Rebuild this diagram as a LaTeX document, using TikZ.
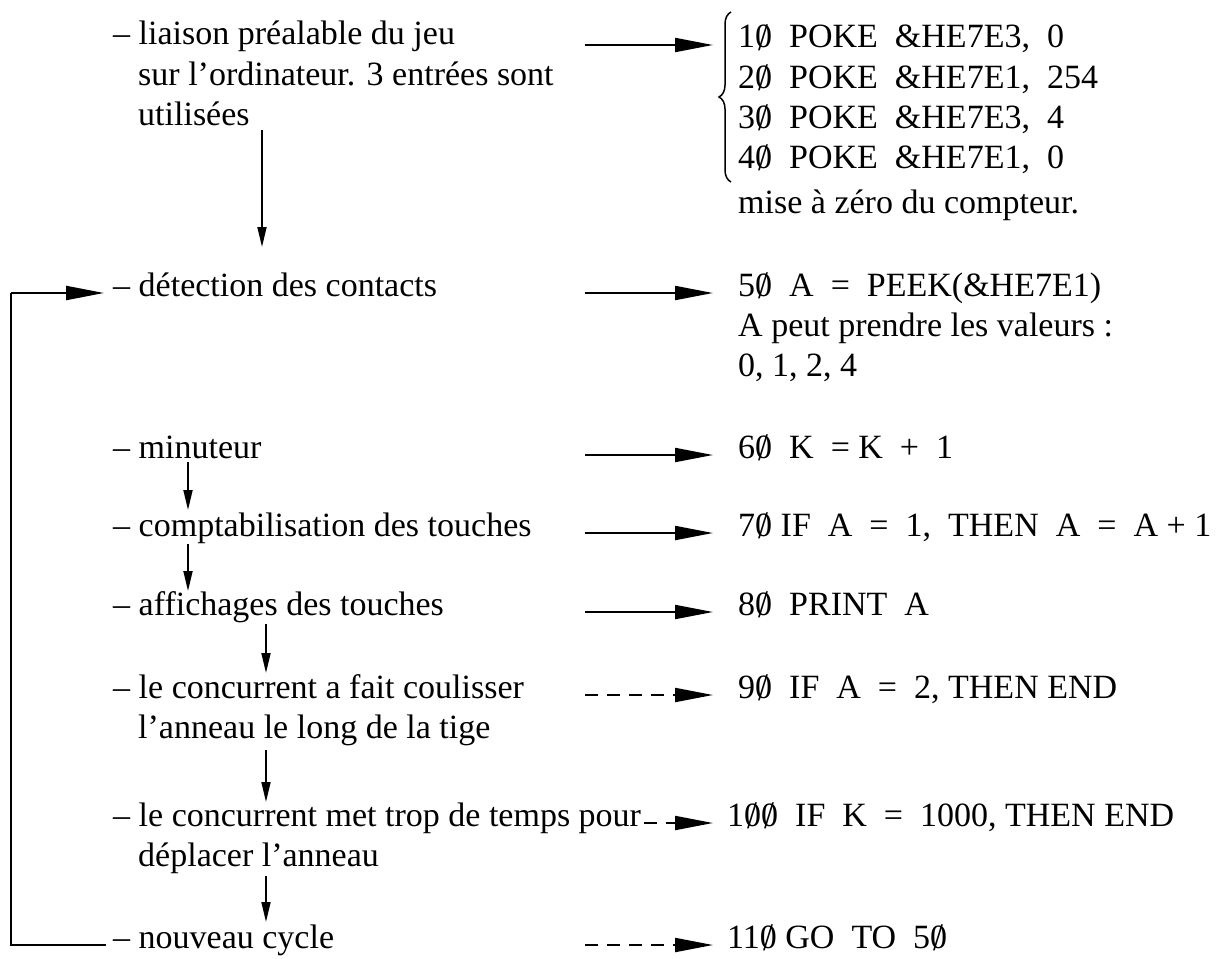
\documentclass[tikz,border=0pt]{standalone}
\usepackage{fontspec}
\setmainfont{Liberation Serif}
\usetikzlibrary{arrows.meta,decorations.pathreplacing}
\newcommand{\zs}{\ooalign{0\cr\hidewidth\raisebox{-0.08em}{\scalebox{1.05}[1.15]{/}}\hidewidth\cr}}
\begin{document}
\begin{tikzpicture}[x=1pt,y=-1pt,
  txt/.style={anchor=base west,inner sep=0pt,font=\fontsize{34}{40}\selectfont},
  harrow/.style={line width=2pt,-{Triangle[length=38pt,width=14pt]}},
  varrow/.style={line width=1.8pt,-{Triangle[length=20pt,width=9pt]}},
  dashline/.style={dash pattern=on 13pt off 9pt},
  loopline/.style={line width=2.2pt}]
\useasboundingbox (0,0) rectangle (1222,958);
% left column
\node[txt] (l1a) at (113,45) {\textendash\ liaison préalable du jeu};
\node[txt] (l1b) at (138,85) {sur l’ordinateur. 3 entrées sont};
\node[txt] (l1c) at (138,125) {utilisées};
\node[txt] (l2) at (113,296) {\textendash\ détection des contacts};
\node[txt] (l3) at (113,458) {\textendash\ minuteur};
\node[txt] (l4) at (113,536) {\textendash\ comptabilisation des touches};
\node[txt] (l5) at (113,615) {\textendash\ affichages des touches};
\node[txt] (l6a) at (113,698) {\textendash\ le concurrent a fait coulisser};
\node[txt] (l6b) at (138,738) {l’anneau le long de la tige};
\node[txt] (l7a) at (113,826) {\textendash\ le concurrent met trop de temps pour};
\node[txt] (l7b) at (138,866) {déplacer l’anneau};
\node[txt] (l8) at (113,948) {\textendash\ nouveau cycle};
% right column
\node[txt] (c1) at (738,48) {1\zs\ \ POKE\ \ \&HE7E3,\ \ 0};
\node[txt] (c2) at (738,88) {2\zs\ \ POKE\ \ \&HE7E1,\ \ 254};
\node[txt] (c3) at (738,128) {3\zs\ \ POKE\ \ \&HE7E3,\ \ 4};
\node[txt] (c4) at (738,168) {4\zs\ \ POKE\ \ \&HE7E1,\ \ 0};
\node[txt] (c5) at (738,213) {mise à zéro du compteur.};
\node[txt] (c6) at (738,296) {5\zs\ \ A\ \ =\ \ PEEK(\&HE7E1)};
\node[txt] (c7) at (738,336) {A peut prendre les valeurs :};
\node[txt] (c8) at (738,376) {0, 1, 2, 4};
\node[txt] (c9) at (738,458) {6\zs\ \ K\ \ = K\ \ +\ \ 1};
\node[txt] (c10) at (738,536) {7\zs\ IF\ \ A\ \ =\ \ 1,\ \ THEN\ \ A\ \ =\ \ A + 1};
\node[txt] (c11) at (738,615) {8\zs\ \ PRINT\ \ A};
\node[txt] (c12) at (738,698) {9\zs\ \ IF\ \ A\ \ =\ \ 2, THEN END};
\node[txt] (c13) at (727,826) {1\zs\zs\ \ IF\ \ K\ \ =\ \ 1000, THEN END};
\node[txt] (c14) at (727,948) {11\zs\ GO\ \ TO\ \ 5\zs};
% brace
\coordinate (brb) at (731,182);
\coordinate (brt) at (731,12);
\draw[line width=1.5pt,decorate,decoration={brace,amplitude=12pt}] (brb) -- (brt);
% horizontal arrows
\foreach \n/\y in {1/45,6/293,9/455,10/533,11/612}{
  \coordinate (hs\n) at (585,\y);
  \coordinate (he\n) at (713,\y);
  \draw[harrow] (hs\n) -- (he\n);
}
\foreach \n/\y in {12/695,14/945}{
  \coordinate (hs\n) at (585,\y);
  \coordinate (he\n) at (713,\y);
  \draw[harrow,dashline] (hs\n) -- (he\n);
}
\coordinate (hs13) at ([xshift=3pt,yshift=3pt]l7a.base east);
\coordinate (he13) at (713,823);
\draw[harrow,dashline] (hs13) -- (he13);
% vertical arrows
\coordinate (v1s) at (262,130); \coordinate (v1e) at (262,247);
\coordinate (v2s) at (188,462); \coordinate (v2e) at (188,510);
\coordinate (v3s) at (188,544); \coordinate (v3e) at (188,591);
\coordinate (v4s) at (266,624); \coordinate (v4e) at (266,673);
\coordinate (v5s) at (266,750); \coordinate (v5e) at (266,802);
\coordinate (v6s) at (266,876); \coordinate (v6e) at (266,922);
\foreach \n in {1,...,6}{\draw[varrow] (v\n s) -- (v\n e);}
% loop
\coordinate (lpa) at (106,945);
\coordinate (lpb) at (11,945);
\coordinate (lpc) at (11,293);
\coordinate (lpd) at (104,293);
\draw[loopline] (lpa) -- (lpb) -- (lpc);
\draw[loopline,-{Triangle[length=38pt,width=14pt]}] (lpc) -- (lpd);
\end{tikzpicture}
\end{document}
